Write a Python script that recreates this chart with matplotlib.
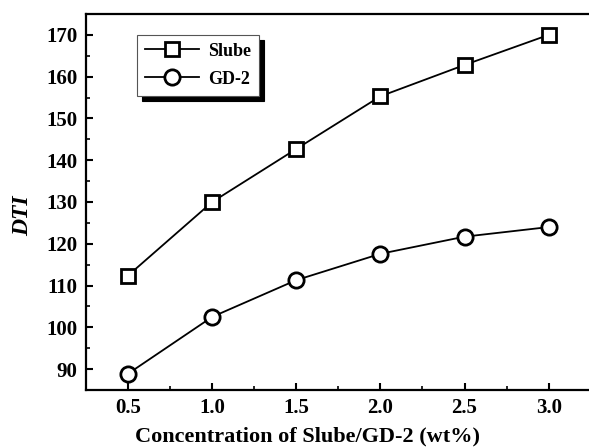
import matplotlib
matplotlib.use("Agg")
import matplotlib.pyplot as plt
from matplotlib.ticker import MultipleLocator

conc = [0.5, 1.0, 1.5, 2.0, 2.5, 3.0]
slube = [112.4, 130.0, 142.7, 155.3, 162.8, 170.0]
gd2 = [88.9, 102.5, 111.3, 117.6, 121.7, 124.0]

plt.rcParams['font.family'] = ['Liberation Serif', 'DejaVu Serif']
plt.rcParams['font.weight'] = 'bold'

fig = plt.figure(figsize=(5.89, 4.48), dpi=100)
W, H = 589, 448
ax = fig.add_axes([86 / W, 1 - 390 / H, (589 - 86) / W, (390 - 14) / H])

ax.plot(conc, slube, '-', color='black', lw=1.3, marker='s', ms=10,
        mfc='white', mec='black', mew=2.0, label='Slube')
ax.plot(conc, gd2, '-', color='black', lw=1.3, marker='o', ms=11,
        mfc='white', mec='black', mew=2.0, label='GD-2')

ax.set_xlim(0.25, 3.24)
ax.set_ylim(85, 175)
ax.xaxis.set_major_locator(MultipleLocator(0.5))
ax.xaxis.set_minor_locator(MultipleLocator(0.25))
ax.yaxis.set_major_locator(MultipleLocator(10))
ax.yaxis.set_minor_locator(MultipleLocator(5))
ax.set_xticks(conc)
ax.set_xticklabels([f"{v:.1f}" for v in conc])
ax.tick_params(which='major', direction='in', length=5, width=1.5, labelsize=15, pad=6)
ax.tick_params(which='minor', direction='in', length=3, width=1.2)
ax.tick_params(top=False, right=False, which='both')
for lab in ax.get_xticklabels() + ax.get_yticklabels():
    lab.set_fontweight('bold')

for s in ['left', 'bottom', 'top']:
    ax.spines[s].set_linewidth(1.6)
ax.spines['right'].set_visible(False)

ax.set_xlabel('Concentration of Slube/GD-2 (wt%)', fontsize=16, fontweight='bold')
ax.set_ylabel('DTI', fontsize=17, fontweight='bold', style='italic')
ax.xaxis.set_label_coords(0.441, -0.098)
ax.yaxis.set_label_coords(-0.105, 0.463)

leg = ax.legend(loc='upper left', bbox_to_anchor=(0.101, 0.945), borderaxespad=0,
                fancybox=False, frameon=True,
                shadow={'ox': 3.5, 'oy': -3.5, 'color': 'black', 'alpha': 1.0},
                handlelength=3.0, handletextpad=0.5, borderpad=0.45, labelspacing=0.6,
                prop={'weight': 'bold', 'size': 13})
leg.get_frame().set_edgecolor('#555555')
leg.get_frame().set_linewidth(0.8)

fig.savefig('out.png', dpi=100)
